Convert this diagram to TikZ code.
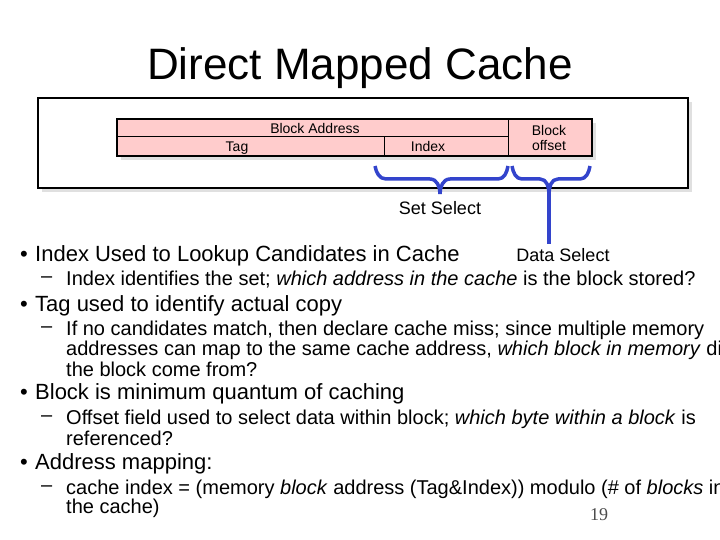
\documentclass[tikz,border=0pt]{standalone}
\usepackage{fontspec}
\setmainfont{Liberation Sans}
\newfontfamily\numfont{Liberation Serif}
\usetikzlibrary{positioning}
\definecolor{fieldpink}{RGB}{255,204,204}
\definecolor{braceblue}{RGB}{51,68,204}
\tikzset{
  lbl/.style={font=\fontsize{14}{15}\selectfont, inner sep=0pt},
  bul/.style={anchor=west, inner sep=0pt, font=\fontsize{22}{24}\selectfont},
  sub/.style={anchor=west, inner sep=0pt, font=\fontsize{20}{22}\selectfont},
  brace/.style={draw=braceblue, line width=3.5pt, line join=round}
}
\begin{document}
\begin{tikzpicture}[x=1pt,y=-1pt]
\useasboundingbox (0,0) rectangle (720,540);
\clip (0,0) rectangle (720,540);
\node (title) at (360,68) {\fontsize{44}{48}\selectfont Direct Mapped Cache};
% outer frame
\fill [black!12] (42,102) rectangle (692,192);
\draw [fill=white, line width=1.2pt] (38,98) rectangle (688,188);
% address fields
\fill [black!12] (121,123) rectangle (596,160);
\draw [fill=fieldpink, line width=2pt] (117,119) rectangle (592,156);
\draw [line width=1pt] (117,137) -- (508,137);
\draw [line width=1pt] (384,137) -- (384,156);
\draw [line width=1pt] (508,119) -- (508,156);
\node [lbl] (baddr) at (315,128) {Block Address};
\node [lbl] (tag) at (237,148) {Tag};
\node [lbl] (index) at (428,146) {Index};
\node [lbl, align=center] (boff) at (549,138) {Block\\offset};
% braces
\draw [brace] (375,166) to[out=-80,in=180] (386,179) -- (430,179) to[out=0,in=90] (440,194)
  (440,194) to[out=90,in=180] (450,179) -- (498,179) to[out=0,in=-100] (508,166);
\draw [brace] (512,166) to[out=-80,in=180] (522,179) -- (540,179) to[out=0,in=90] (549,194)
  (549,194) to[out=90,in=180] (558,179) -- (580,179) to[out=0,in=-100] (590,166);
\draw [brace] (549,190) -- (549,244);
\node [font=\fontsize{18}{19}\selectfont, inner sep=0pt] (setsel) at (440,208) {Set Select};
\node [font=\fontsize{18}{19}\selectfont, inner sep=0pt] (datasel) at (563,255) {Data Select};
% bullets
\foreach \y in {256,306,394,464} \node [bul] at (20,\y) {•};
\foreach \y in {280,330,419,489} \node [sub] at (41,\y) {–};
\node [bul] (b1) at (35,256) {Index Used to Lookup Candidates in Cache};
\node [sub] (s1) at (66,280) {Index identifies the set; \textit{which address in the cache} is the block stored?};
\node [bul] (b2) at (35,306) {Tag used to identify actual copy};
\node [sub] (s2a) at (66,330) {If no candidates match, then declare cache miss; since multiple memory};
\node [sub] (s2b) at (66,350) {addresses can map to the same cache address, \textit{which block in memory} did};
\node [sub] (s2c) at (66,369) {the block come from?};
\node [bul] (b3) at (35,394) {Block is minimum quantum of caching};
\node [sub] (s3a) at (66,419) {Offset field used to select data within block; \textit{which byte within a block} is};
\node [sub] (s3b) at (66,438) {referenced?};
\node [bul] (b4) at (35,464) {Address mapping:};
\node [sub] (s4a) at (66,489) {cache index = (memory \textit{block} address (Tag\&Index)) modulo (\# of \textit{blocks} in};
\node [sub] (s4b) at (66,508) {the cache)};
\node [font=\numfont\fontsize{18}{19}\selectfont, text=black!70] (pg) at (599,515) {19};
\end{tikzpicture}
\end{document}
